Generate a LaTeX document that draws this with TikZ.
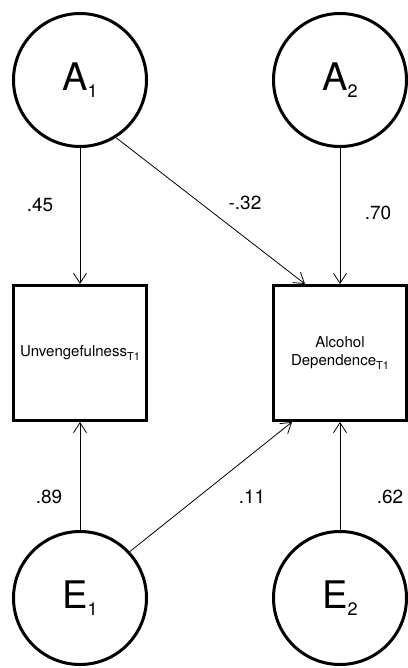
\documentclass[tikz,border=0pt]{standalone}
\usepackage{fontspec}
\setmainfont{TeX Gyre Heros}
\usetikzlibrary{positioning, arrows.meta}

\newcommand{\latsub}[1]{\raisebox{-7pt}{\fontsize{18}{18}\selectfont #1}}
\newcommand{\obssub}[1]{\raisebox{-4pt}{\fontsize{11}{11}\selectfont #1}}

\tikzset{
  latent/.style={circle, draw, line width=3pt, minimum size=133pt, inner sep=0pt,
    font=\fontsize{38}{40}\selectfont},
  observed/.style={rectangle, draw, line width=3pt, minimum width=133pt,
    minimum height=135pt, inner sep=0pt, align=center, font=\fontsize{15}{18}\selectfont},
  loading/.style={-{Straight Barb[length=10pt, width=13pt]}, line width=0.8pt},
  coef/.style={font=\fontsize{19}{21}\selectfont}
}

\begin{document}
\begin{tikzpicture}[on grid]

    \useasboundingbox (-80pt,80pt) rectangle (327pt,-588pt);

    \node[latent] (a_1) {A\latsub{1}};
    \node[latent] (a_2) [right=260pt of a_1] {A\latsub{2}};
    \node[observed] (unv) [below=273pt of a_1] {Unvengefulness\obssub{T1}};
    \node[observed] (alc) [below=273pt of a_2] {Alcohol\\Dependence\obssub{T1}};
    \node[latent] (e_1) [below=245pt of unv] {E\latsub{1}};
    \node[latent] (e_2) [below=245pt of alc] {E\latsub{2}};

    % path coefficients
    \node[coef] (c_a1u) [below left=125pt and 40pt of a_1] {.45};
    \node[coef] (c_a1a) [below right=123pt and 165pt of a_1] {-.32};
    \node[coef] (c_a2a) [below right=133pt and 38pt of a_2] {.70};
    \node[coef] (c_e1u) [above left=101pt and 31pt of e_1] {.89};
    \node[coef] (c_e1a) [above right=101pt and 172pt of e_1] {.11};
    \node[coef] (c_e2a) [above right=101pt and 50pt of e_2] {.62};

    \draw[loading] (a_1.south) -- (unv.north);
    \draw[loading] (a_1.-58) -- ([xshift=-35pt]alc.north);
    \draw[loading] (a_2.south) -- (alc.north);
    \draw[loading] (e_1.north) -- (unv.south);
    \draw[loading] (e_1.43) -- ([xshift=-48pt]alc.south);
    \draw[loading] (e_2.north) -- (alc.south);

\end{tikzpicture}
\end{document}
